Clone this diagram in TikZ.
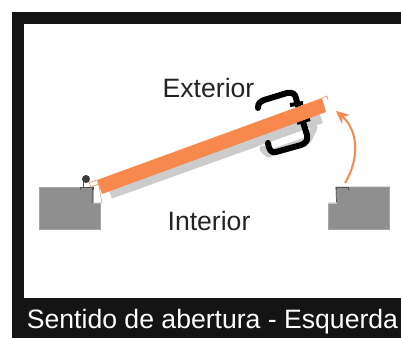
\documentclass[tikz,border=0pt]{standalone}
\usepackage{fontspec}
\setmainfont{Liberation Sans}
\usetikzlibrary{arrows.meta}
\definecolor{framecol}{RGB}{20,20,20}
\definecolor{panelcol}{RGB}{247,137,79}
\definecolor{shadowcol}{RGB}{204,204,204}
\definecolor{blockcol}{RGB}{143,143,143}
\definecolor{edgecol}{RGB}{85,85,85}
\definecolor{textcol}{RGB}{35,35,35}
\tikzset{
  bigtext/.style={font=\fontsize{26.6}{30}\selectfont,inner sep=0pt,text=textcol},
  wall/.style={fill=blockcol,draw=blockcol!80!white,line width=.6pt},
  tick/.style={draw=edgecol,line width=.7pt},
  grip/.style={draw=black,line width=6pt,line join=round,line cap=round}
}
\begin{document}
\begin{tikzpicture}[x=1pt,y=-1pt]
   \useasboundingbox (0,0) rectangle (401,338);
   % frame
   \fill[framecol] (12,12) rectangle (401,24);
   \fill[framecol] (12,12) rectangle (24,338);
   \fill[framecol] (12,298) rectangle (401,338);

   % walls
   \path[wall] (39.5,187) -- (93,187) -- (93,203) -- (100.5,203) -- (100.5,229.5) -- (39.5,229.5) -- cycle;
   \path[wall] (336,187) -- (348,187) -- (389.5,187) -- (389.5,229.5) -- (328.5,229.5) -- (328.5,203) -- (336.5,203) -- cycle;
   \draw[tick] (80,190) -- (80,187) -- (93,187) -- (93,190);
   \draw[tick] (83,187) -- (83,182);
   \draw[tick] (92.5,187) -- (92,203);
   \draw[draw=blockcol!60!white,line width=.7pt] (98,181) -- (102,203) -- (93,203);
   \draw[tick] (336,190) -- (336,187) -- (348,187) -- (348,190);
   \draw[tick] (336,187) -- (336.5,202);
   \draw[draw=blockcol!50!white,line width=.8pt] (328,203) -- (336.5,203);

   % shadow
   \fill[shadowcol] (112,198.5) -- (108,188) -- (319,112) -- (323,123) -- cycle;
   \draw[shadowcol,line width=7pt,line join=round,line cap=round] (263,149) -- (268,154) -- (308,140) -- (314,128);

   % handle
   \draw[grip] (258,108) .. controls (258,103) and (260,102) .. (264,100) -- (287,93) .. controls (293,92) and (295,94) .. (296,98) -- (298,106);
   \draw[grip,line width=4pt,line cap=butt] (290,105) -- (303,103);
   \draw[grip,line width=4pt,line cap=butt] (297,123) -- (310,119);
   \draw[grip] (303,122) -- (307,135) .. controls (308,141) and (306,143) .. (301,145) -- (276,152) .. controls (271,153) and (269,150) .. (268,143);

   % sash
   \fill[panelcol] (97,180) -- (322,98) -- (326,112) -- (102,194) -- cycle;
   \draw[panelcol,line width=.6pt] (97,180) -- (89,182.5) -- (91,187) -- (99,184);
   \draw[panelcol,line width=.6pt] (322,98) -- (327,96) -- (328,100);
   \fill[edgecol!70!black] (86,179) circle (4);

   % opening arrow
   \coordinate (arrowstart) at (345,183);
   \coordinate (arrowtip) at (336,111);
   \draw[panelcol,line width=2pt,-{Stealth[length=13pt,width=12pt]}] (arrowstart) .. controls (360,158) and (358,130) .. (arrowtip);

   % labels
   \node[bigtext] (exterior) at (208.5,88) {Exterior};
   \node[bigtext] (interior) at (209,221) {Interior};
   \node[bigtext,text=white] (caption) at (212.5,322) {Sentido de abertura - Esquerda};
\end{tikzpicture}
\end{document}
